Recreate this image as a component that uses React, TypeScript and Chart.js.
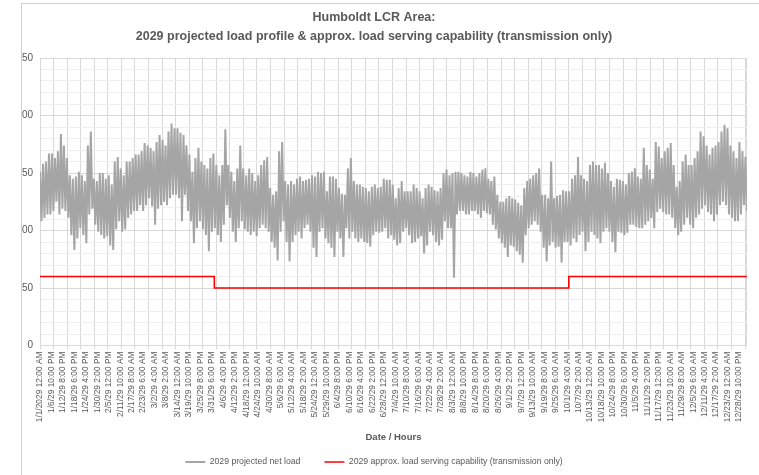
import React, { useEffect, useRef } from 'react';
import { Chart, registerables } from 'chart.js';

Chart.register(...registerables);

const titleLines = [
  'Humboldt LCR Area:',
  '2029 projected load profile & approx. load serving capability (transmission only)',
];
const xAxisTitle = 'Date / Hours';
const seriesNames = [
  '2029 projected net load',
  '2029 approx. load serving capability (transmission only)',
];

// category labels, one every 142 hourly points
const dateLabels = [
  '1/1/2029 12:00 AM', '1/6/29 10:00 PM', '1/12/29 8:00 PM', '1/18/29 6:00 PM', '1/24/29 4:00 PM',
  '1/30/29 2:00 PM', '2/5/29 12:00 PM', '2/11/29 10:00 AM', '2/17/29 8:00 AM', '2/23/29 6:00 AM',
  '3/2/29 4:00 AM', '3/8/29 2:00 AM', '3/14/29 12:00 AM', '3/19/29 10:00 PM', '3/25/29 8:00 PM',
  '3/31/29 6:00 PM', '4/6/29 4:00 PM', '4/12/29 2:00 PM', '4/18/29 12:00 PM', '4/24/29 10:00 AM',
  '4/30/29 8:00 AM', '5/6/29 6:00 AM', '5/12/29 4:00 AM', '5/18/29 2:00 AM', '5/24/29 12:00 AM',
  '5/29/29 10:00 PM', '6/4/29 8:00 PM', '6/10/29 6:00 PM', '6/16/29 4:00 PM', '6/22/29 2:00 PM',
  '6/28/29 12:00 PM', '7/4/29 10:00 AM', '7/10/29 8:00 AM', '7/16/29 6:00 AM', '7/22/29 4:00 AM',
  '7/28/29 2:00 AM', '8/3/29 12:00 AM', '8/8/29 10:00 PM', '8/14/29 8:00 PM', '8/20/29 6:00 PM',
  '8/26/29 4:00 PM', '9/1/29 2:00 PM', '9/7/29 12:00 PM', '9/13/29 10:00 AM', '9/19/29 8:00 AM',
  '9/25/29 6:00 AM', '10/1/29 4:00 AM', '10/7/29 2:00 AM', '10/13/29 12:00 AM', '10/18/29 10:00 PM',
  '10/24/29 8:00 PM', '10/30/29 6:00 PM', '11/5/29 4:00 PM', '11/11/29 2:00 PM', '11/17/29 12:00 PM',
  '11/23/29 10:00 AM', '11/29/29 8:00 AM', '12/5/29 6:00 AM', '12/11/29 4:00 AM', '12/17/29 2:00 AM',
  '12/23/29 12:00 AM', '12/28/29 10:00 PM',
];
const labelStepHours = 142;
const gridStepHours = 168;
const totalHours = 8759;

// projected net load, read as high / low envelope per short stretch of hours
const loadHigh = [
  151, 158, 160, 167, 167, 163, 169, 184, 174, 163, 148, 145, 147, 151, 148, 143, 174, 186, 145, 143,
  150, 150, 145, 148, 140, 160, 164, 154, 148, 160, 160, 163, 166, 166, 169, 176, 174, 172, 169, 177,
  183, 179, 174, 186, 193, 189, 189, 185, 183, 174, 166, 151, 163, 172, 160, 157, 154, 163, 167, 157,
  148, 157, 188, 157, 151, 143, 154, 174, 154, 148, 154, 150, 143, 148, 157, 161, 164, 137, 131, 134,
  169, 177, 143, 140, 143, 140, 145, 147, 143, 144, 145, 148, 147, 151, 150, 151, 134, 147, 147, 145,
  137, 132, 131, 154, 163, 143, 140, 140, 138, 137, 134, 138, 140, 137, 138, 145, 144, 144, 140, 128,
  137, 143, 134, 134, 134, 140, 137, 134, 128, 137, 140, 138, 135, 134, 137, 150, 153, 148, 150, 151,
  151, 150, 148, 147, 151, 150, 147, 150, 153, 154, 145, 143, 147, 131, 125, 125, 128, 130, 128, 127,
  124, 122, 137, 143, 145, 148, 150, 154, 131, 131, 128, 160, 128, 130, 131, 135, 134, 134, 145, 148,
  164, 148, 145, 143, 157, 160, 157, 157, 154, 159, 150, 143, 138, 145, 144, 143, 140, 150, 151, 154,
  147, 145, 172, 157, 153, 145, 177, 173, 163, 169, 172, 176, 157, 138, 143, 160, 166, 157, 157, 163,
  169, 186, 182, 174, 166, 172, 174, 177, 186, 192, 189, 174, 169, 163, 177, 169, 164,
];
const loadLow = [
  108, 111, 114, 114, 117, 125, 114, 119, 117, 111, 96, 83, 93, 102, 96, 89, 114, 119, 105, 99,
  96, 93, 95, 87, 83, 101, 108, 99, 101, 111, 114, 117, 117, 122, 117, 122, 128, 121, 105, 119,
  122, 125, 122, 128, 131, 131, 128, 108, 131, 117, 108, 89, 102, 108, 101, 96, 82, 99, 102, 96,
  90, 105, 122, 111, 99, 90, 102, 108, 101, 99, 96, 99, 95, 102, 105, 102, 99, 90, 85, 74,
  99, 108, 90, 73, 90, 96, 99, 93, 102, 105, 99, 85, 77, 99, 102, 93, 89, 85, 77, 99,
  93, 77, 102, 93, 99, 93, 90, 93, 90, 89, 86, 96, 99, 98, 99, 102, 93, 96, 92, 87,
  89, 99, 102, 96, 89, 90, 93, 95, 80, 87, 99, 96, 90, 87, 92, 108, 102, 102, 59, 114,
  117, 117, 114, 114, 117, 117, 114, 111, 117, 115, 114, 105, 101, 93, 89, 85, 77, 87, 86, 82,
  79, 72, 96, 102, 105, 108, 105, 99, 85, 73, 87, 90, 85, 86, 72, 90, 90, 87, 93, 90,
  96, 99, 82, 90, 99, 96, 93, 89, 99, 102, 99, 90, 81, 99, 98, 96, 98, 105, 105, 103,
  102, 102, 105, 108, 111, 102, 116, 119, 116, 114, 114, 111, 102, 96, 99, 105, 111, 105, 102, 111,
  114, 119, 122, 116, 114, 108, 114, 122, 125, 122, 114, 111, 108, 108, 114, 122, 117,
];

// approx. load serving capability: value holds from each start hour
const capabilityHours = [0, 2160, 6552, 8759];
const capabilityValues = [60, 50, 60, 60];

const yTickValues = [0, 50, 100, 150, 200, 250];

const SANS = "'Liberation Sans', Arial, sans-serif";
const TEXT = '#595959';
const GRID = '#d9d9d9';
const GRID_MINOR = '#efefef';

export default function App() {
  const ref = useRef<HTMLCanvasElement | null>(null);

  useEffect(() => {
    if (!ref.current) return;
    const step = totalHours / (loadHigh.length - 0.5);
    const loadPoints: { x: number; y: number }[] = [];
    loadHigh.forEach((hi, i) => {
      loadPoints.push({ x: i * step, y: hi });
      loadPoints.push({ x: i * step + step / 2, y: loadLow[i] });
    });
    const capPoints = capabilityHours.map((h, i) => ({ x: h, y: capabilityValues[i] }));

    const chart = new Chart(ref.current, {
      type: 'line',
      data: {
        datasets: [
          {
            label: seriesNames[0],
            data: loadPoints,
            borderColor: '#a5a5a5',
            backgroundColor: '#a5a5a5',
            borderWidth: 2,
            borderJoinStyle: 'bevel',
            pointRadius: 0,
            tension: 0,
          },
          {
            label: seriesNames[1],
            data: capPoints,
            borderColor: '#ff0000',
            backgroundColor: '#ff0000',
            borderWidth: 1.6,
            pointRadius: 0,
            stepped: 'before',
          },
        ],
      },
      options: {
        responsive: false,
        animation: false,
        events: [],
        layout: { padding: { left: 0, right: 11, top: 0, bottom: -1.4 } },
        plugins: {
          title: {
            display: true,
            text: titleLines,
            color: TEXT,
            font: { family: SANS, size: 12.5, weight: 'bold', lineHeight: 1.52 },
            padding: { top: 8.5, bottom: 11.5 },
          },
          legend: {
            position: 'bottom',
            labels: {
              usePointStyle: true,
              pointStyle: 'line',
              pointStyleWidth: 20,
              color: TEXT,
              font: { family: SANS, size: 8.7 },
              padding: 24,
            },
          },
          tooltip: { enabled: false },
        },
        scales: {
          x: {
            type: 'linear',
            min: 0,
            max: totalHours,
            afterBuildTicks: (scale: any) => {
              const vals = new Set<number>();
              for (let v = 0; v <= totalHours; v += gridStepHours) vals.add(v);
              for (let j = 0; j < dateLabels.length; j++) vals.add(j * labelStepHours);
              vals.add(totalHours);
              scale.ticks = Array.from(vals).sort((a, b) => a - b).map((v) => ({ value: v }));
            },
            afterFit: (scale: any) => {
              const legendH = scale.chart.legend ? scale.chart.legend.height : 0;
              scale.height = 475 + 1.4 - legendH - 345.5;
            },
            ticks: {
              autoSkip: false,
              minRotation: 90,
              maxRotation: 90,
              padding: 2,
              color: TEXT,
              font: { family: SANS, size: 8.4 },
              callback: (value: any) => {
                const v = Number(value);
                return v % labelStepHours === 0 && v / labelStepHours < dateLabels.length
                  ? dateLabels[v / labelStepHours]
                  : '';
              },
            },
            grid: {
              color: (ctx: any) => {
                const v = ctx.tick ? ctx.tick.value : 0;
                return v % gridStepHours === 0 || v === totalHours ? GRID : 'rgba(0,0,0,0)';
              },
              tickColor: (ctx: any) => {
                const v = ctx.tick ? ctx.tick.value : 0;
                return v % gridStepHours === 0 ? GRID : 'rgba(0,0,0,0)';
              },
              tickLength: 4,
            },
            border: { color: GRID },
            title: {
              display: true,
              text: xAxisTitle,
              color: TEXT,
              font: { family: SANS, size: 9.5, weight: 'bold', lineHeight: 1.2 },
              padding: { top: 4, bottom: -9 },
            },
          },
          y: {
            min: 0,
            max: 250,
            afterFit: (scale: any) => {
              scale.width = 40;
            },
            ticks: {
              stepSize: 10,
              autoSkip: false,
              padding: 7,
              color: TEXT,
              font: { family: SANS, size: 10 },
              callback: (value: any) => (yTickValues.includes(Number(value)) ? String(value) : ''),
            },
            grid: {
              color: (ctx: any) => (ctx.tick && ctx.tick.value % 50 === 0 ? GRID : GRID_MINOR),
              drawTicks: false,
            },
            border: { color: GRID },
          },
        },
      },
    });
    return () => chart.destroy();
  }, []);

  return (
    <div
      style={{
        position: 'fixed',
        left: 0,
        top: 0,
        width: 759,
        height: 475,
        background: '#ffffff',
        overflow: 'hidden',
      }}
    >
      <div
        style={{
          position: 'absolute',
          left: 21,
          top: 3,
          right: 0,
          bottom: 0,
          overflow: 'hidden',
          borderLeft: '1px solid #cfcfcf',
          borderTop: '1px solid #cfcfcf',
        }}
      >
        <canvas
          ref={ref}
          width={759}
          height={475}
          style={{ position: 'absolute', left: -22, top: -4, width: 759, height: 475 }}
        />
      </div>
    </div>
  );
}
